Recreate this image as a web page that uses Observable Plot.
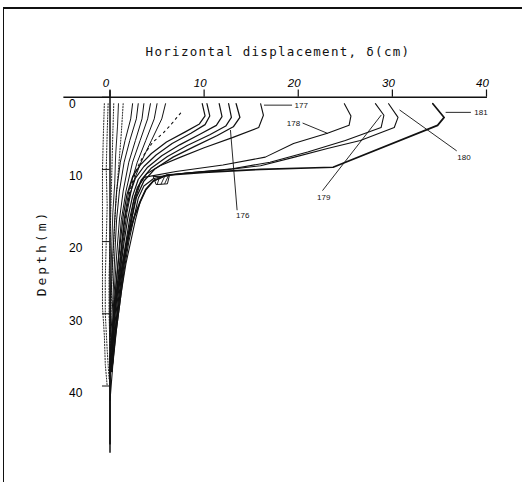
<!DOCTYPE html>
<html><head><meta charset="utf-8">
<script src="https://cdn.jsdelivr.net/npm/d3@7"></script>
<script src="https://cdn.jsdelivr.net/npm/@observablehq/plot@0.6"></script>
<style>
html,body{margin:0;padding:0;background:#fff;}
#wrap{position:relative;width:522px;height:482px;overflow:hidden;background:#fff;}
#frame{position:absolute;left:3px;top:7px;width:530px;height:490px;border-left:1.5px solid #111;border-top:2px solid #111;pointer-events:none;}
#title{position:absolute;left:0;width:556px;top:44px;text-align:center;font-family:"DejaVu Sans Mono",monospace;font-size:12.5px;letter-spacing:1.3px;color:#111;white-space:nowrap;}
#ylab{position:absolute;left:41px;top:253px;transform:translate(-50%,-50%) rotate(-90deg);font-family:"DejaVu Sans Mono",monospace;font-size:13px;letter-spacing:3px;color:#111;white-space:nowrap;}
#chart{position:absolute;left:0;top:0;}
</style></head><body>
<div id="wrap"><div id="chart"></div><div id="frame"></div>
<div id="title">Horizontal displacement, δ(cm)</div>
<div id="ylab">Depth(m)</div></div>
<script>
// Profiles: [displacement (cm), depth (m)]
const p01 = [[-0.6,0.9],[-0.7,5],[-0.8,10],[-0.8,15],[-0.8,20],[-0.8,25],[-0.8,29],[-0.6,33],[-0.5,37],[-0.3,40]];
const p02 = [[-0.2,0.9],[-0.3,5],[-0.4,10],[-0.3,15],[-0.4,20],[-0.5,25],[-0.5,30],[-0.3,35],[-0.1,39]];
const p03 = [[0.4,0.9],[0.3,5],[0.2,10],[0.1,15],[0,20],[-0.1,25],[-0.1,30],[0,35],[0,40]];
const p04 = [[0.9,0.9],[0.8,4],[0.6,8],[0.5,12],[0.3,16],[0.2,20],[0.1,25],[0,30],[0,35]];
const p05 = [[1.4,0.9],[1.2,5],[0.9,10],[0.6,15],[0.4,20],[0.2,25],[0.1,30],[0,35]];
const p06 = [[2.4,0.9],[2.2,3],[1.6,6],[1.1,9],[0.7,13],[0.5,17],[0.3,22],[0.1,28],[0,33]];
const p07 = [[3.0,0.9],[2.8,3],[2.1,6],[1.5,9],[1.0,13],[0.7,17],[0.5,22],[0.3,28],[0.1,33]];
const p08 = [[3.6,0.9],[3.4,3],[2.7,6],[2.0,9],[1.4,13],[1.0,17],[0.7,22],[0.4,28],[0.2,34]];
const p09 = [[4.3,0.9],[4.0,3],[3.2,6],[2.4,9],[1.7,13],[1.2,17],[0.9,22],[0.5,28],[0.2,34]];
const p10 = [[5.0,0.9],[4.7,3],[3.8,6],[2.9,9],[2.0,13],[1.5,17],[1.1,22],[0.6,28],[0.2,35]];
const p11 = [[5.9,0.9],[5.5,3],[4.4,6],[3.3,9],[2.4,12],[1.8,16],[1.4,20],[1.0,25],[0.5,30],[0.2,36]];
const p12 = [[7.5,2.2],[6.6,3.6],[5.7,4.9],[4.5,6.3],[3.6,8],[2.8,10],[2.1,13],[1.6,17],[1.2,21],[0.8,26],[0.4,31],[0.1,37]];
const p13 = [[9.8,0.9],[10.1,2.6],[9.5,3.7],[8.0,4.8],[6.0,6.2],[4.4,7.8],[3.2,9.4],[2.4,11],[1.8,13.5],[1.4,16.5],[1.1,20],[0.8,24],[0.5,28],[0.2,33],[0,38]];
const p14 = [[10.3,0.9],[10.6,2.6],[10.1,3.8],[8.6,5.0],[6.6,6.4],[4.9,8.0],[3.6,9.6],[2.7,11.2],[2.1,13.5],[1.6,16.5],[1.3,20],[1.0,24],[0.6,28],[0.3,33],[0.1,38]];
const p15 = [[11.6,0.9],[11.9,2.7],[11.3,3.9],[9.6,5.1],[7.4,6.6],[5.5,8.1],[4.0,9.7],[3.0,11.4],[2.4,13.7],[1.9,16.7],[1.5,20],[1.1,24],[0.7,28],[0.3,33],[0.1,38]];
const p16 = [[12.6,0.9],[12.9,2.8],[12.3,4.0],[10.6,5.2],[8.2,6.7],[6.1,8.2],[4.4,9.8],[3.3,11.5],[2.6,13.8],[2.1,16.8],[1.7,20],[1.2,24],[0.8,28],[0.4,33],[0.1,38]];
const p176 = [[13.4,0.9],[13.8,2.8],[13.1,4.1],[11.4,5.3],[9.0,6.8],[6.7,8.3],[4.8,9.9],[3.6,11.6],[2.8,13.9],[2.3,16.9],[1.8,20],[1.3,24],[0.9,28],[0.5,33],[0.2,38]];
const p177 = [[16.0,0.9],[16.3,2.5],[15.8,4.2],[13.0,5.6],[10.0,7.0],[7.5,8.3],[5.3,9.5],[3.9,10.6],[3.2,12],[2.7,14],[2.3,17],[1.9,20],[1.4,24],[1.0,28],[0.5,33],[0.2,38]];
const p178 = [[24.9,0.9],[25.6,2.6],[25.4,3.9],[23.1,5.0],[19.5,6.4],[16.5,8.3],[12,9.4],[7,10.3],[3.6,11.1],[2.9,12.5],[2.5,14.5],[2.2,17],[1.8,20],[1.4,24],[1.0,28],[0.5,33],[0.2,38]];
const p179 = [[28.2,0.9],[29.1,2.5],[28.8,4.2],[25,6.0],[21,7.6],[17,9.0],[13,9.9],[9,10.4],[6,10.8],[4.6,11.3],[3.6,12.3],[3.0,14],[2.5,17],[2.0,20],[1.5,24],[1.1,28],[0.6,33],[0.2,38]];
const p180 = [[29.6,0.9],[30.6,2.8],[30.2,4.2],[26.6,6.0],[23.1,7.1],[19.6,8.3],[16,9.5],[12,10.1],[8,10.5],[5.8,10.9],[4.6,11.6],[3.8,12.8],[3.2,14.5],[2.7,17],[2.2,20],[1.7,23],[1.2,27],[0.7,32],[0.3,37],[0,42]];
const p181 = [[34.3,0.9],[35.5,2.8],[34.8,3.9],[23.7,9.7],[16,10.0],[10,10.4],[6,10.8],[4.6,11.6],[3.8,12.8],[3.2,14.5],[2.6,16.5],[2.0,19],[1.5,22],[1.1,25],[0.6,28],[0.3,32],[0,36],[0,42],[0,48]];
const hatchBox = [[4.6,11.0],[6.3,10.9],[6.1,12.0],[4.9,12.1],[4.6,11.0]];
const hatchX1 = [5.0, 5.4, 5.8];
const hatchY1 = [12.1, 12.1, 12.0];
const hatchX2 = [5.3, 5.8, 6.2];
const hatchY2 = [11.0, 11.0, 10.9];

const xTicks = [0, 10, 20, 30, 40];
const yTicks = [0, 10, 20, 30, 40];

// annotation labels: text, displacement, depth
const labelText = ["176", "177", "178", "179", "180", "181"];
const labelX    = [14.1, 19.6, 20.2, 22.7, 37.6, 38.7];
const labelY    = [16.4, 1.1, 3.6, 13.9, 8.3, 2.1];
// arrows: from (x1,y1) to (x2,y2)
const arrowX1 = [13.5, 19.3, 20.5, 22.6, 36.8, 38.3];
const arrowY1 = [15.6, 1.1, 3.6, 12.9, 7.4, 2.1];
const arrowX2 = [12.8, 16.4, 23.1, 28.8, 30.8, 35.7];
const arrowY2 = [4.6, 1.1, 5.0, 2.5, 1.8, 2.1];

const styles = [
  [p01, 0.9, "1.2,1.6"], [p02, 0.9, "1.2,1.6"], [p03, 0.9, "1.2,1.6"], [p04, 0.9, null], [p05, 0.9, "1.2,1.6"],
  [p06, 1.0, null], [p07, 1.0, null], [p08, 1.0, null], [p09, 1.0, null], [p10, 1.0, null], [p11, 1.0, null],
  [p12, 1.1, "2,4"],
  [p13, 1.2, null], [p14, 1.2, null], [p15, 1.2, null], [p16, 1.2, null], [p176, 1.3, null],
  [p177, 1.1, null], [p178, 1.1, null], [p179, 1.1, null], [p180, 1.1, null], [p181, 1.7, null]
];

const lineMarks = styles.map(([pts, w, dash]) =>
  Plot.line(pts, {x: d => d[0], y: d => d[1], stroke: "#111", strokeWidth: w, strokeDasharray: dash, curve: "linear"}));

const ann = labelText.map((t, i) => ({t, x: labelX[i], y: labelY[i]}));
const arr = arrowX1.map((v, i) => ({x1: v, y1: arrowY1[i], x2: arrowX2[i], y2: arrowY2[i], bend: [0, 0, 0, -6, 22, 0][i]}));
const hatch = hatchX1.map((v, i) => ({x1: v, y1: hatchY1[i], x2: hatchX2[i], y2: hatchY2[i]}));
const anchors = ["middle", "start", "end", "middle", "middle", "start"];

const chart = Plot.plot({
  width: 522, height: 482,
  marginLeft: 109.5, marginRight: 36, marginTop: 96.7, marginBottom: 24.3,
  x: {domain: [0, 40], axis: null},
  y: {domain: [0, 50], reverse: true, axis: null},
  style: {fontFamily: "Liberation Sans, Arial, sans-serif", background: "transparent", overflow: "visible"},
  marks: [
    // top axis line and ticks
    Plot.ruleY([0], {x1: -4.9, x2: 40.1, stroke: "#111", strokeWidth: 1.4}),
    Plot.ruleX(xTicks, {y1: 0, y2: -1.0, stroke: "#111", strokeWidth: 1.2}),
    Plot.axisX({anchor: "top", ticks: xTicks, tickSize: 0, tickPadding: 10, dx: -4, fontSize: 11.5, fontStyle: "italic", label: null}),
    // y ticks and labels
    Plot.ruleX([0], {y1: -0.9, y2: 49.3, stroke: "#111", strokeWidth: 1.5}),
    Plot.ruleY(yTicks, {x1: -0.8, x2: 0, stroke: "#111", strokeWidth: 1}),
    Plot.axisY({anchor: "left", ticks: yTicks, tickSize: 0, tickPadding: 25, dy: 7, dx: -16, textAnchor: "start", fontSize: 12, label: null}),
    ...lineMarks,
    Plot.line(hatchBox, {x: d => d[0], y: d => d[1], stroke: "#111", strokeWidth: 1}),
    Plot.link(hatch, {x1: "x1", y1: "y1", x2: "x2", y2: "y2", stroke: "#111", strokeWidth: 0.9}),
    Plot.arrow(arr, {x1: "x1", y1: "y1", x2: "x2", y2: "y2", bend: d => d.bend, stroke: "#111", strokeWidth: 0.9, headLength: 7, headAngle: 40}),
    ...ann.map((a, i) => Plot.text([a], {x: "x", y: "y", text: "t", textAnchor: anchors[i], fontSize: 8, fill: "#111"}))
  ]
});
document.getElementById("chart").appendChild(chart);
</script></body></html>
